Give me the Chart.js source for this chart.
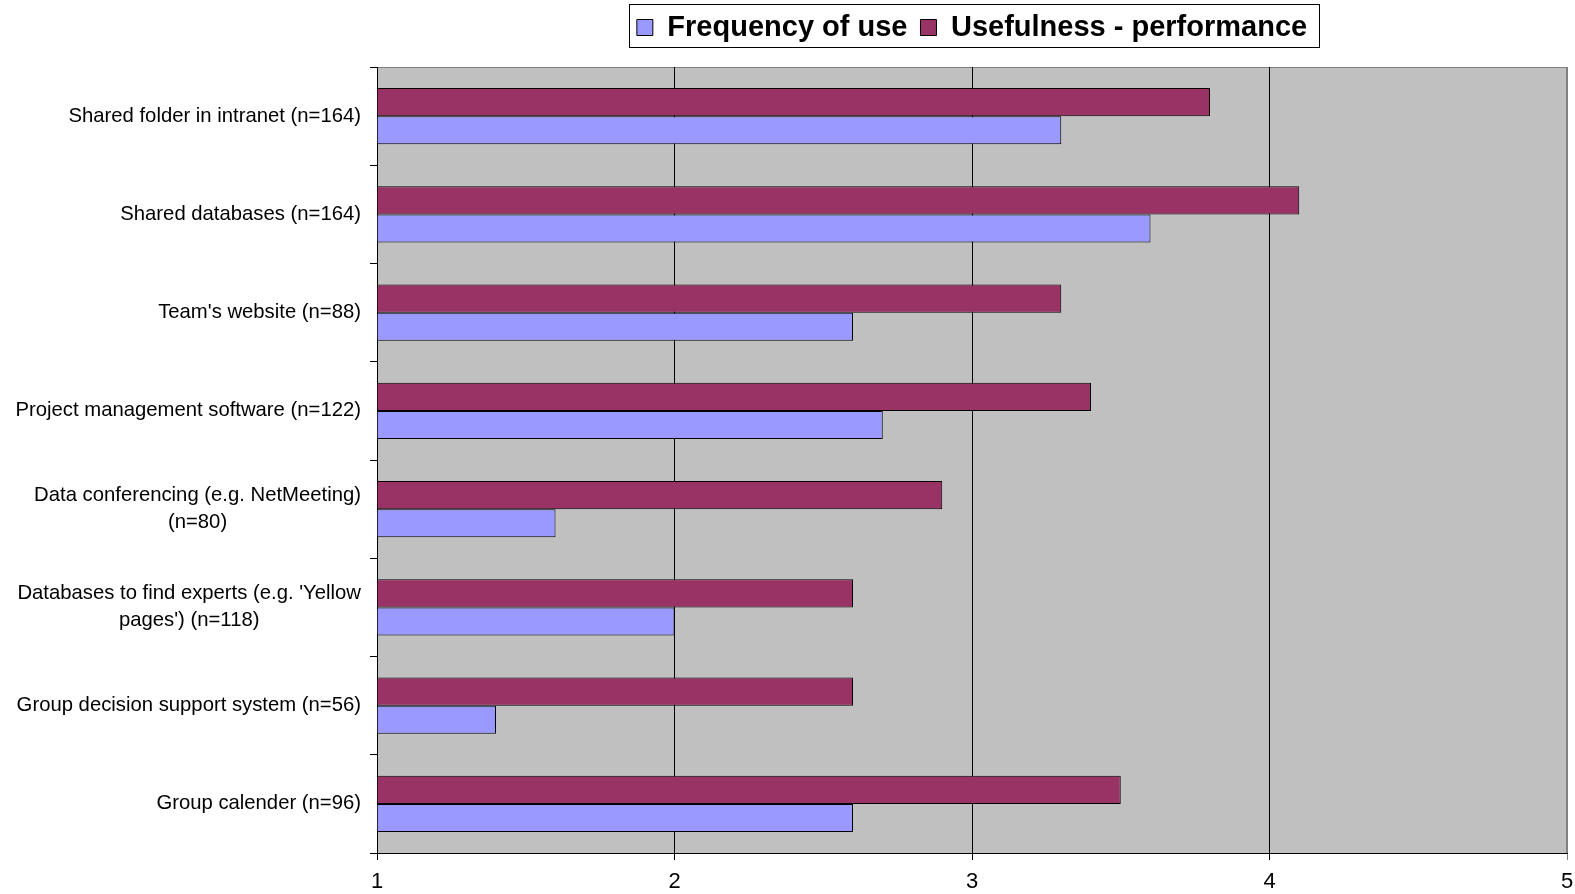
<!DOCTYPE html>
<html lang="en">
<head>
  <meta charset="UTF-8">
  <title>Frequency of use and usefulness of tools</title>
  <script src="https://cdn.jsdelivr.net/npm/chart.js"></script>
  <style>
    html, body { margin: 0; padding: 0; background: #fff; }
    #wrap { width: 1575px; height: 894px; }
  </style>
</head>
<body>
  <div id="wrap"><canvas id="toolChart" width="1575" height="894"></canvas></div>

  <script>
    const categories = [
      ['Shared folder in intranet (n=164)'],
      ['Shared databases (n=164)'],
      ["Team's website (n=88)"],
      ['Project management software (n=122)'],
      ['Data conferencing (e.g. NetMeeting)', '(n=80)'],
      ["Databases to find experts (e.g. 'Yellow", "pages') (n=118)"],
      ['Group decision support system (n=56)'],
      ['Group calender (n=96)']
    ];
    const frequencyOfUse = [3.3, 3.6, 2.6, 2.7, 1.6, 2.0, 1.4, 2.6];
    const usefulness = [3.8, 4.1, 3.3, 3.4, 2.9, 2.6, 2.6, 3.5];
    const xTicks = [1, 2, 3, 4, 5];

    const fontFamily = '"Liberation Sans", Arial, sans-serif';
    const labelFont = '20.3px ' + fontFamily;

    // grey plot background + thin grey frame, like the old spreadsheet look
    const plotBackground = {
      id: 'plotBackground',
      beforeDraw(chart) {
        const { ctx, chartArea: a } = chart;
        ctx.save();
        ctx.fillStyle = '#c0c0c0';
        ctx.fillRect(a.left, a.top, a.right - a.left, a.bottom - a.top);
        ctx.strokeStyle = '#808080';
        ctx.lineWidth = 1;
        ctx.strokeRect(a.left + 0.5, a.top + 0.5, a.right - a.left - 1, a.bottom - a.top);
        ctx.restore();
      }
    };

    // category labels: right aligned block, lines centred inside it
    const categoryLabels = {
      id: 'categoryLabels',
      afterDraw(chart) {
        const { ctx } = chart;
        const y = chart.scales.y;
        ctx.save();
        ctx.font = labelFont;
        ctx.fillStyle = '#000';
        ctx.textAlign = 'center';
        ctx.textBaseline = 'middle';
        const lineH = 27;
        categories.forEach((lines, i) => {
          const cy = y.getPixelForTick(i);
          const w = Math.max(...lines.map(l => ctx.measureText(l).width));
          const cx = y.right - 16 - w / 2;
          const y0 = cy - (lines.length - 1) * lineH / 2;
          lines.forEach((l, j) => ctx.fillText(l, cx, y0 + j * lineH));
        });
        ctx.restore();
      }
    };

    // make the legend block taller so the plot starts lower
    const legendHeight = {
      id: 'legendHeight',
      beforeLayout(chart) {
        const lg = chart.legend;
        if (!lg || lg._patched) return;
        const fit = lg.fit;
        lg.fit = function () {
          fit.call(this);
          this.height = 67;
        };
        lg._patched = true;
      }
    };

    // box round the legend
    const legendFrame = {
      id: 'legendFrame',
      afterDraw(chart) {
        const boxes = chart.legend.legendHitBoxes;
        if (!boxes || !boxes.length) return;
        const left = Math.min(...boxes.map(b => b.left)) - 8;
        const right = Math.max(...boxes.map(b => b.left + b.width)) + 12;
        const top = Math.min(...boxes.map(b => b.top)) - 9;
        const bottom = Math.max(...boxes.map(b => b.top + b.height)) + 5;
        const { ctx } = chart;
        ctx.save();
        ctx.strokeStyle = '#000';
        ctx.lineWidth = 1;
        ctx.strokeRect(Math.round(left) + 0.5, Math.round(top) + 0.5, Math.round(right - left), Math.round(bottom - top));
        ctx.restore();
      }
    };

    const ctx = document.getElementById('toolChart').getContext('2d');
    new Chart(ctx, {
      type: 'bar',
      data: {
        labels: categories.map(l => l.join(' ')),
        datasets: [
          {
            label: 'Usefulness - performance',
            data: usefulness,
            backgroundColor: '#993366',
            borderColor: '#000',
            borderWidth: 1,
            base: 1
          },
          {
            label: 'Frequency of use',
            data: frequencyOfUse,
            backgroundColor: '#9999ff',
            borderColor: '#000',
            borderWidth: 1,
            base: 1
          }
        ]
      },
      options: {
        indexAxis: 'y',
        responsive: false,
        animation: false,
        events: [],
        layout: { padding: { top: 0, right: 8, left: 0, bottom: 0 } },
        datasets: {
          bar: { categoryPercentage: 0.57, barPercentage: 1 }
        },
        plugins: {
          tooltip: { enabled: false },
          legend: {
            position: 'top',
            fullSize: false,
            reverse: true,
            labels: {
              boxWidth: 16,
              boxHeight: 16,
              padding: 13,
              color: '#000',
              font: { family: fontFamily, size: 29, weight: 'bold' }
            }
          }
        },
        scales: {
          x: {
            min: 1,
            max: 5,
            afterBuildTicks(scale) { scale.ticks = xTicks.map(v => ({ value: v })); },
            afterFit(scale) {
              scale.height = 41;
              scale.paddingLeft = 0;
              scale.paddingRight = 0;
            },
            grid: {
              color: c => (c.tick && c.tick.value === 5 ? '#808080' : '#000'),
              lineWidth: 1,
              tickLength: 7
            },
            border: { color: '#000', width: 1 },
            ticks: {
              color: '#000',
              padding: 9,
              font: { family: fontFamily, size: 22 }
            }
          },
          y: {
            offset: true,
            afterFit(scale) { scale.width = 377; },
            grid: {
              drawOnChartArea: false,
              offset: true,
              color: '#000',
              tickLength: 7
            },
            border: { color: '#000', width: 1 },
            ticks: { display: false }
          }
        }
      },
      plugins: [legendHeight, plotBackground, categoryLabels, legendFrame]
    });
  </script>
</body>
</html>
